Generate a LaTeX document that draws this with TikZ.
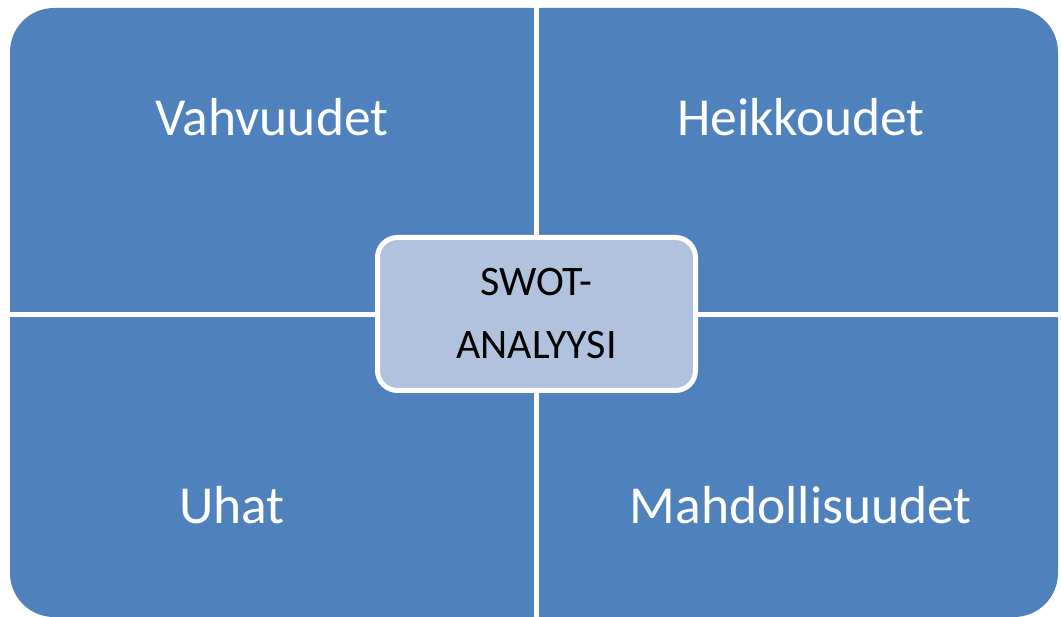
\documentclass[tikz,border=0pt]{standalone}
\usepackage{fontspec}
\setmainfont{Carlito}
\definecolor{swotblue}{HTML}{4F81BD}
\definecolor{swotlight}{HTML}{B1C2DE}
\begin{document}
\begin{tikzpicture}[x=1pt,y=-1pt,
  quadlabel/.style={text=white,anchor=base,font=\fontsize{53.5}{60}\selectfont,inner sep=0pt},
  centerbox/.style={draw=white,line width=5pt,fill=swotlight,rounded corners=20pt,
    minimum width=318pt,minimum height=153pt,align=center,text=black,
    font=\fontsize{42}{63}\selectfont,inner sep=0pt},
  gap/.style={draw=white,line width=5pt}]
\useasboundingbox (0,0) rectangle (1061,617);
\fill[swotblue,rounded corners=44pt] (10,8) rectangle (1058,617);
\coordinate (vtop) at (536.5,0);
\coordinate (vbot) at (536.5,620);
\coordinate (hleft) at (5,314.5);
\coordinate (hright) at (1061,314.5);
\draw[gap] (vtop) -- (vbot);
\draw[gap] (hleft) -- (hright);
\node[quadlabel] (s) at (272,136) {Vahvuudet};
\node[quadlabel] (w) at (801,136) {Heikkoudet};
\node[quadlabel] (t) at (232,523) {Uhat};
\node[quadlabel] (o) at (801,523) {Mahdollisuudet};
\node[centerbox] (c) at (536.5,314) {SWOT-\\ANALYYSI};
\end{tikzpicture}
\end{document}
